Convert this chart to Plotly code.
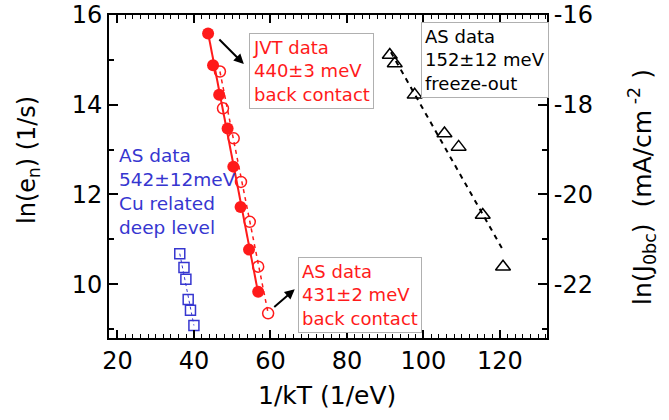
import plotly.graph_objects as go

# ---- data ----
# AS data, back contact (open red circles), ln(e_n) [left axis]
as_bc_x = [46.8, 47.6, 50.4, 52.3, 54.6, 56.8, 59.4]
as_bc_y = [14.74, 13.92, 13.25, 12.28, 11.39, 10.39, 9.35]
as_bc_fit_x = [46.8, 59.4]
as_bc_fit_y = [14.74, 9.35]

# JVT data, back contact (filled red circles), ln(J0bc) [right axis]
jvt_x = [43.7, 45.0, 46.6, 48.8, 50.3, 52.2, 54.4, 56.8]
jvt_y = [-16.41, -17.12, -17.78, -18.53, -19.38, -20.28, -21.23, -22.17]
jvt_fit_x = [43.7, 56.8]
jvt_fit_y = [-16.4, -22.2]

# AS data, Cu related deep level (blue squares) [left axis]
cu_x = [36.3, 37.4, 37.9, 38.5, 39.1, 40.0]
cu_y = [10.68, 10.37, 10.11, 9.66, 9.42, 9.08]
cu_fit_x = [36.3, 40.0]
cu_fit_y = [10.68, 9.08]

# AS data, freeze-out (open triangles) [left axis]
fo_x = [91.2, 92.5, 97.7, 105.5, 109.2, 115.5, 120.8]
fo_y = [15.11, 14.92, 14.22, 13.36, 13.06, 11.54, 10.39]
fo_fit_x = [91.5, 120.8]
fo_fit_y = [15.17, 10.76]

x_range = [17.8, 132.3]
y_range = [8.8, 16]
y2_range = [-23.2, -16]
y2_tickvals = [-22, -20, -18, -16]
y2_ticktext = ["-22", "-20", "-18", "-16"]

RED = "#ff1a1a"
BLUE = "#3636d0"
FONT = "DejaVu Sans"

fig = go.Figure()

fig.add_trace(go.Scatter(x=as_bc_fit_x, y=as_bc_fit_y, mode="lines",
                         line=dict(color=RED, width=1.5, dash="4px,4px"),
                         yaxis="y", showlegend=False, hoverinfo="skip"))
fig.add_trace(go.Scatter(x=jvt_fit_x, y=jvt_fit_y, mode="lines",
                         line=dict(color=RED, width=2),
                         yaxis="y2", showlegend=False, hoverinfo="skip"))
fig.add_trace(go.Scatter(x=as_bc_x, y=as_bc_y, mode="markers",
                         marker=dict(symbol="circle-open", size=11, color=RED,
                                     line=dict(width=1.5, color=RED)),
                         yaxis="y", showlegend=False))
fig.add_trace(go.Scatter(x=jvt_x, y=jvt_y, mode="markers",
                         marker=dict(symbol="circle", size=12, color=RED),
                         yaxis="y2", showlegend=False))
fig.add_trace(go.Scatter(x=cu_fit_x, y=cu_fit_y, mode="lines",
                         line=dict(color=BLUE, width=1, dash="3px,3px"),
                         yaxis="y", showlegend=False, hoverinfo="skip"))
fig.add_trace(go.Scatter(x=cu_x, y=cu_y, mode="markers",
                         marker=dict(symbol="square-open", size=10, color=BLUE,
                                     line=dict(width=1.5, color=BLUE)),
                         yaxis="y", showlegend=False))
fig.add_trace(go.Scatter(x=fo_fit_x, y=fo_fit_y, mode="lines",
                         line=dict(color="black", width=2, dash="5px,5px"),
                         yaxis="y", showlegend=False, hoverinfo="skip"))
fig.add_trace(go.Scatter(x=fo_x, y=fo_y, mode="markers",
                         marker=dict(symbol="triangle-up-open", size=13, color="black",
                                     line=dict(width=1.5, color="black")),
                         yaxis="y", showlegend=False))

axis_common = dict(
    showline=True, linewidth=2, linecolor="black",
    ticks="inside", tickwidth=1.5, tickcolor="black",
    showgrid=False, zeroline=False, automargin=False,
    tickfont=dict(family=FONT, size=24, color="black"),
)

fig.update_layout(
    width=669, height=420, autosize=False,
    margin=dict(l=109, r=122, t=15, b=82),
    paper_bgcolor="white", plot_bgcolor="white",
    xaxis=dict(range=x_range, tick0=20, dtick=20, ticklen=8, mirror="ticks",
               minor=dict(dtick=2, ticklen=4, ticks="inside", tickwidth=1, tickcolor="black"),
               **axis_common),
    yaxis=dict(range=y_range, tick0=10, dtick=2, ticklen=9, mirror=False,
               minor=dict(dtick=1, ticklen=5, ticks="inside", tickwidth=1.5, tickcolor="black"),
               **axis_common),
    yaxis2=dict(range=y2_range, tickmode="array", tickvals=y2_tickvals, ticktext=y2_ticktext,
                ticklen=9, overlaying="y", side="right",
                minor=dict(dtick=1, ticklen=5, ticks="inside", tickwidth=1.5, tickcolor="black"),
                **axis_common),
)

ann = []
# axis titles
ann.append(dict(text="1/kT (1/eV)", xref="paper", yref="paper",
                x=(327 - 109) / 438, y=-(395 - 338) / 323, xanchor="center", yanchor="middle",
                showarrow=False, font=dict(family=FONT, size=25, color="black")))
ann.append(dict(text="ln(e<sub>n</sub>) (1/s)", xref="paper", yref="paper",
                x=(28 - 109) / 438, y=1 - (160 - 15) / 323, xanchor="center", yanchor="middle",
                textangle=-90, showarrow=False, font=dict(family=FONT, size=24, color="black")))
ann.append(dict(text="ln(J<sub>0bc</sub>)\u00a0\u00a0(mA/cm<sup>\u00a0-2</sup>\u00a0)", xref="paper", yref="paper",
                x=(642 - 109) / 438, y=1 - (187 - 15) / 323, xanchor="center", yanchor="middle",
                textangle=-90, showarrow=False, font=dict(family=FONT, size=25, color="black")))

box = dict(showarrow=False, xanchor="left", yanchor="top", align="left",
           bordercolor="#b0b0b0", borderwidth=1, borderpad=3, bgcolor="white")
ann.append(dict(text="JVT data<br>440±3 meV<br>back contact", x=54.4, y=15.61,
                font=dict(family=FONT, size=18, color=RED), **box))
ann.append(dict(text="AS data<br>431±2 meV<br>back contact", x=67.1, y=10.61,
                font=dict(family=FONT, size=18, color=RED), **box))
ann.append(dict(text="AS data<br>152±12 meV<br>freeze-out", x=99.4, y=15.84,
                font=dict(family=FONT, size=18, color="black"), **box))
ann.append(dict(text="AS data<br>542±12meV<br>Cu related<br>deep level", x=19.8, y=13.14,
                showarrow=False, xanchor="left", yanchor="top", align="left",
                font=dict(family=FONT, size=18.5, color=BLUE)))
# arrows
ann.append(dict(text="", x=53.05, y=14.907, ax=-26, ay=-26, showarrow=True,
                arrowhead=2, arrowsize=1, arrowwidth=2, arrowcolor="black", standoff=0))
ann.append(dict(text="", x=66.36, y=9.888, ax=-22, ay=19, showarrow=True,
                arrowhead=2, arrowsize=1, arrowwidth=2, arrowcolor="black", standoff=0))

fig.update_layout(annotations=ann)
fig.write_html("out.html")
